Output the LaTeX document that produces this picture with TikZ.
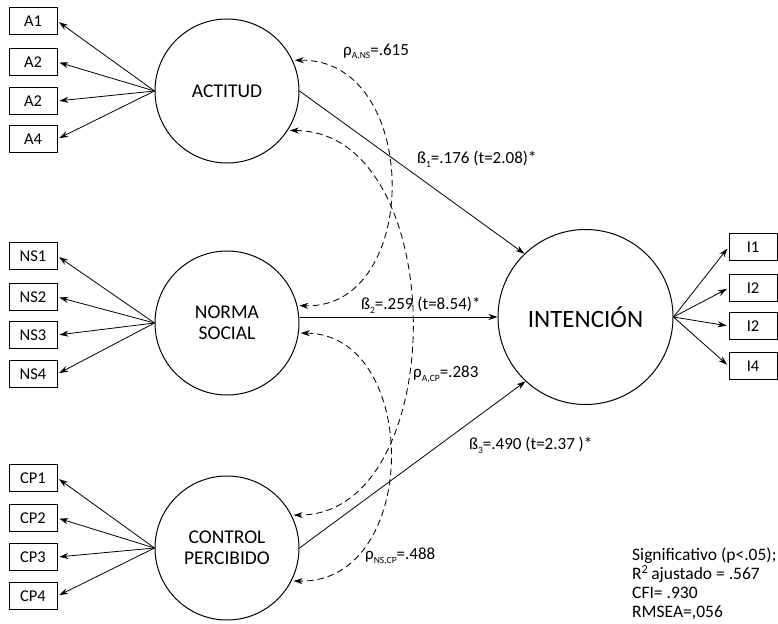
\documentclass[tikz,border=0pt]{standalone}
\usepackage{fontspec}
\setmainfont{Carlito}
\usetikzlibrary{arrows.meta}
\newcommand\sbx[1]{\raisebox{-0.45ex}{\fontsize{9.5}{9.5}\selectfont #1}}
\begin{document}
\begin{tikzpicture}[x=1pt,y=-1pt,
  lat/.style={circle,draw,line width=1pt,inner sep=0pt,minimum size=144pt,
    font=\fontsize{19.5}{23}\selectfont,align=center},
  obs/.style={rectangle,draw,line width=0.8pt,minimum width=48pt,minimum height=27pt,
    inner sep=0pt,font=\fontsize{16.5}{18}\selectfont},
  tip/.tip={Stealth[length=9pt,width=6pt]},
  ld/.style={-tip,line width=0.8pt,shorten >=2pt},
  cov/.style={tip-tip,dash pattern=on 6.5pt off 4pt,line width=0.85pt,
    shorten >=2pt,shorten <=2pt},
  lab/.style={font=\fontsize{17}{19}\selectfont,anchor=west,inner sep=0pt},
]
\useasboundingbox (0,0) rectangle (778,623);

% latent variables
\node[lat] (A) at (227,91) {ACTITUD};
\node[lat] (NS) at (227,323) {NORMA\\[-2pt]SOCIAL};
\node[lat] (CP) at (227,548) {CONTROL\\[-2pt]PERCIBIDO};
\node[lat,minimum size=175pt,font=\fontsize{25}{28}\selectfont] (I) at (585.5,317) {INTENCIÓN};

% indicators
\node[obs] (a1) at (33,21) {A1};
\node[obs] (a2) at (33,62) {A2};
\node[obs] (a3) at (33,101) {A2};
\node[obs] (a4) at (33,139) {A4};
\node[obs] (n1) at (33,256) {NS1};
\node[obs] (n2) at (33,297) {NS2};
\node[obs] (n3) at (33,335) {NS3};
\node[obs] (n4) at (33,374) {NS4};
\node[obs] (c1) at (33,478) {CP1};
\node[obs] (c2) at (33,518) {CP2};
\node[obs] (c3) at (33,557) {CP3};
\node[obs] (c4) at (33,596) {CP4};
\node[obs] (i1) at (753,247) {I1};
\node[obs] (i2) at (753,288) {I2};
\node[obs] (i3) at (753,326) {I2};
\node[obs] (i4) at (753,366) {I4};

\foreach \b in {a1,a2,a3,a4} \draw[ld] (A.west) -- (\b.east);
\foreach \b in {n1,n2,n3,n4} \draw[ld] (NS.west) -- (\b.east);
\foreach \b in {c1,c2,c3,c4} \draw[ld] (CP.west) -- (\b.east);
\foreach \b in {i1,i2,i3,i4} \draw[ld] (I.east) -- (\b.west);

% structural paths
\draw[ld,shorten >=0pt] (A.east) -- (I.134);
\draw[ld,shorten >=0pt] (I.west -| NS.east) -- (I.west);
\draw[ld,shorten >=0pt] (CP.east) -- (I.227);

% correlations
\draw[cov] (A.25) .. controls (422,58) and (422,310) .. (NS.14);
\draw[cov] (A.-33) .. controls (452,131) and (452,515) .. (CP.27);
\draw[cov] (NS.-8) .. controls (421,334) and (421,584) .. (CP.-27);

% labels
\node[lab] (r1) at (343,52) {ρ\sbx{A,NS}=.615};
\node[lab] (b1) at (417,159) {ß\sbx{1}=.176 (t=2.08)*};
\node[lab] (b2) at (361,305) {ß\sbx{2}=.259 (t=8.54)*};
\node[lab] (r2) at (413,374) {ρ\sbx{A,CP}=.283};
\node[lab] (b3) at (469,445) {ß\sbx{3}=.490 (t=2.37 )*};
\node[lab] (r3) at (365,556) {ρ\sbx{NS,CP}=.488};
\node[lab,font=\fontsize{17.5}{19}\selectfont,align=left] (st) at (632,583.5)
  {Significativo (p<.05);\\R\textsuperscript{2}\,ajustado = .567\\CFI= .930\\RMSEA=,056};
\end{tikzpicture}
\end{document}
